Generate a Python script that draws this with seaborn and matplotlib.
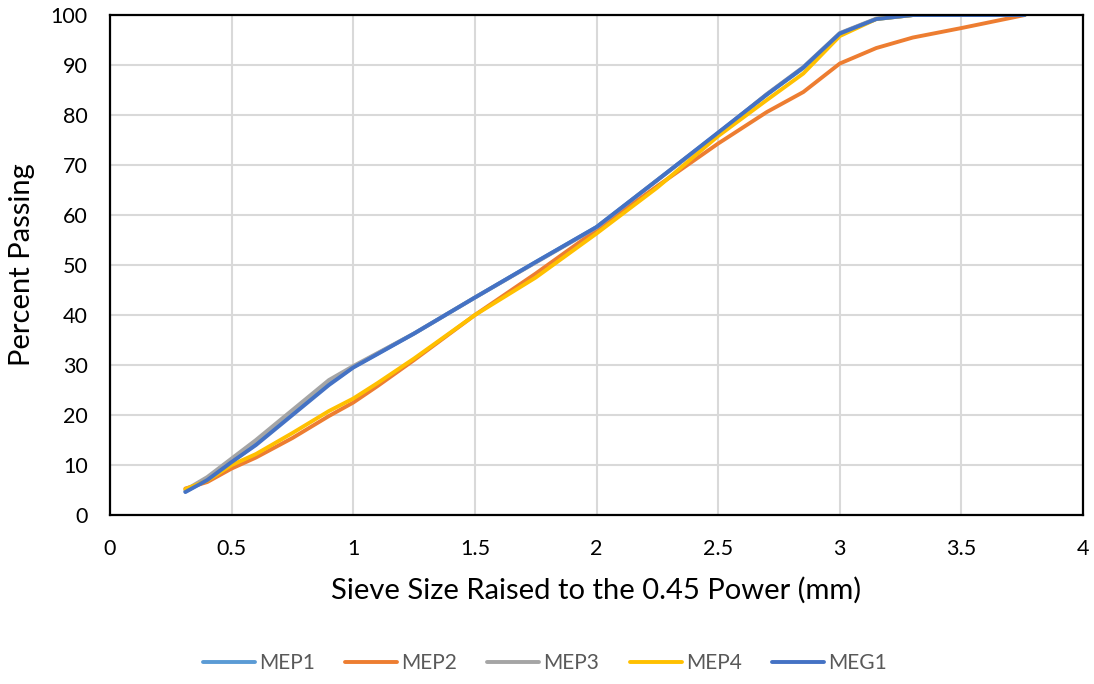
import matplotlib
matplotlib.use("Agg")
import matplotlib.pyplot as plt
import matplotlib.ticker as mticker
import numpy as np
import pandas as pd
import seaborn as sns

# Sieve size raised to the 0.45 power (mm)
sieve_x = [0.31, 0.40, 0.50, 0.60, 0.75, 0.90, 1.00, 1.10, 1.25, 1.50, 1.75,
           2.00, 2.25, 2.50, 2.70, 2.85, 3.00, 3.15, 3.30, 3.50, 3.76]

# Percent passing for each mix
mep1 = [4.7, 7.1, 10.6, 14.2, 20.3, 26.2, 29.6, 32.3, 36.3, 43.5, 50.6,
        57.6, 67.0, 76.4, 84.1, 89.4, 96.3, 99.2, 100.0, 100.0, 100.0]
mep2 = [5.3, 6.6, 9.3, 11.5, 15.4, 19.8, 22.5, 25.8, 31.0, 40.0, 48.3,
        57.0, 65.8, 74.3, 80.6, 84.6, 90.3, 93.4, 95.5, 97.4, 100.0]
mep3 = [5.0, 7.6, 11.3, 15.0, 21.0, 27.0, 29.8, 32.4, 36.3, 43.5, 50.5,
        57.5, 67.0, 76.3, 84.2, 89.6, 96.4, 99.3, 100.0, 100.0, 100.0]
mep4 = [5.2, 6.9, 10.0, 12.2, 16.4, 20.8, 23.3, 26.4, 31.3, 40.0, 47.5,
        56.3, 65.5, 75.8, 83.0, 88.3, 95.8, 99.2, 100.0, 100.0, 100.0]
meg1 = [4.6, 7.0, 10.6, 14.0, 20.0, 26.0, 29.5, 32.2, 36.3, 43.5, 50.6,
        57.6, 67.0, 76.5, 84.1, 89.5, 96.3, 99.2, 100.0, 100.0, 100.0]

series_names = ["MEP1", "MEP2", "MEP3", "MEP4", "MEG1"]
series_values = [mep1, mep2, mep3, mep4, meg1]
colors = ["#5B9BD5", "#ED7D31", "#A5A5A5", "#FFC000", "#4472C4"]

x_ticks = [0, 0.5, 1, 1.5, 2, 2.5, 3, 3.5, 4]
y_ticks = list(range(0, 101, 10))

df = pd.concat(
    [pd.DataFrame({"x": sieve_x, "y": vals, "mix": name})
     for name, vals in zip(series_names, series_values)],
    ignore_index=True,
)

sns.set_theme(style="white")
plt.rcParams["font.family"] = ["Lato", "DejaVu Sans"]

fig = plt.figure(figsize=(10.94, 6.84), dpi=100)
ax = fig.add_axes([0.1005, 0.247, 0.8895, 0.731])

sns.lineplot(data=df, x="x", y="y", hue="mix", hue_order=series_names,
             palette=colors, linewidth=2.8, sort=False, legend=False,
             ax=ax, solid_capstyle="round", solid_joinstyle="round")

ax.set_xlim(0, 4)
ax.set_ylim(0, 100)
ax.set_xticks(x_ticks)
ax.set_yticks(y_ticks)
ax.xaxis.set_major_formatter(mticker.FuncFormatter(lambda v, p: f"{v:g}"))
ax.grid(True, color="#D9D9D9", linewidth=1.5)
ax.set_axisbelow(True)
ax.tick_params(axis="both", length=0, labelsize=15.5, colors="black")
ax.tick_params(axis="y", pad=16)
ax.tick_params(axis="x", pad=17)
for side, sp in ax.spines.items():
    sp.set_visible(True)
    sp.set_color("black")
    sp.set_linewidth(1.6)

ax.set_xlabel("Sieve Size Raised to the 0.45 Power (mm)", fontsize=21,
              labelpad=13, color="black")
ax.set_ylabel("Percent Passing", fontsize=21, labelpad=11, color="black")

handles = [plt.Line2D([0], [0], color=c, linewidth=2.8, solid_capstyle="round")
           for c in colors]
fig.legend(handles, series_names, loc="center", bbox_to_anchor=(0.498, 0.031),
           ncol=5, frameon=False, fontsize=15, handlelength=2.5,
           columnspacing=1.45, handletextpad=0.2, labelcolor="#595959")

fig.savefig("out.png", dpi=100)
